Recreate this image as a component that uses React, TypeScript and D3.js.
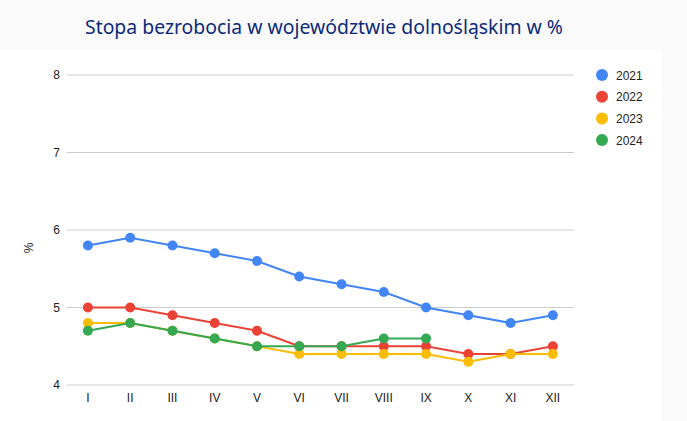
import React from "react";
import * as d3 from "d3";

const months = ["I", "II", "III", "IV", "V", "VI", "VII", "VIII", "IX", "X", "XI", "XII"];
const seriesNames = ["2021", "2022", "2023", "2024"];
const colors = ["#4285f4", "#ea4335", "#fbbc04", "#34a853"];
const v2021 = [5.8, 5.9, 5.8, 5.7, 5.6, 5.4, 5.3, 5.2, 5.0, 4.9, 4.8, 4.9];
const v2022 = [5.0, 5.0, 4.9, 4.8, 4.7, 4.5, 4.5, 4.5, 4.5, 4.4, 4.4, 4.5];
const v2023 = [4.8, 4.8, 4.7, 4.6, 4.5, 4.4, 4.4, 4.4, 4.4, 4.3, 4.4, 4.4];
const v2024 = [4.7, 4.8, 4.7, 4.6, 4.5, 4.5, 4.5, 4.6, 4.6];
const yTicks = [4, 5, 6, 7, 8];

const W = 687;
const H = 421;

export default function App() {
  const series = [v2021, v2022, v2023, v2024];
  const x = d3.scaleBand<string>().domain(months).range([66.8, 574]);
  const y = d3.scaleLinear().domain([4, 8]).range([385, 75]);
  const cx = (m: string) => (x(m) ?? 0) + x.bandwidth() / 2;
  const line = d3
    .line<number>()
    .x((_, i) => cx(months[i]))
    .y((d) => y(d));

  return (
    <svg width={W} height={H} style={{ position: "absolute", left: 0, top: 0 }}>
      <rect x={0} y={0} width={W} height={H} fill="#fafafa" />
      <rect x={0} y={50} width={662} height={H - 50} fill="#ffffff" />
      <text
        x={85}
        y={34}
        textLength={478}
        lengthAdjust="spacingAndGlyphs"
        fontFamily="'Noto Sans', 'Open Sans', sans-serif"
        fontSize={19}
        fill="#0d2a7a"
      >
        Stopa bezrobocia w województwie dolnośląskim w %
      </text>
      {yTicks.map((t) => (
        <g key={t}>
          <line x1={66.8} x2={574} y1={y(t)} y2={y(t)} stroke="#cccccc" strokeWidth={1} />
          <text
            x={60}
            y={y(t) + 4}
            textAnchor="end"
            fontFamily="'Liberation Sans', Arial, sans-serif"
            fontSize={12}
            fill="#222"
          >
            {t}
          </text>
        </g>
      ))}
      {months.map((m) => (
        <text
          key={m}
          x={cx(m)}
          y={402}
          textAnchor="middle"
          fontFamily="'Liberation Sans', Arial, sans-serif"
          fontSize={12}
          fill="#222"
        >
          {m}
        </text>
      ))}
      <text
        transform={`translate(33,248) rotate(-90)`}
        textAnchor="middle"
        fontFamily="'Liberation Sans', Arial, sans-serif"
        fontSize={12}
        fill="#222"
      >
        %
      </text>
      {series.map((vals, si) => (
        <g key={si}>
          <path d={line(vals) ?? ""} fill="none" stroke={colors[si]} strokeWidth={2} />
          {vals.map((v, i) => (
            <circle key={i} cx={cx(months[i])} cy={y(v)} r={5} fill={colors[si]} />
          ))}
        </g>
      ))}
      {seriesNames.map((n, i) => (
        <g key={n}>
          <circle cx={602} cy={75 + i * 21.7} r={6} fill={colors[i]} />
          <text
            x={616}
            y={75 + i * 21.7 + 4.5}
            fontFamily="'Liberation Sans', Arial, sans-serif"
            fontSize={12}
            fill="#222"
          >
            {n}
          </text>
        </g>
      ))}
    </svg>
  );
}
